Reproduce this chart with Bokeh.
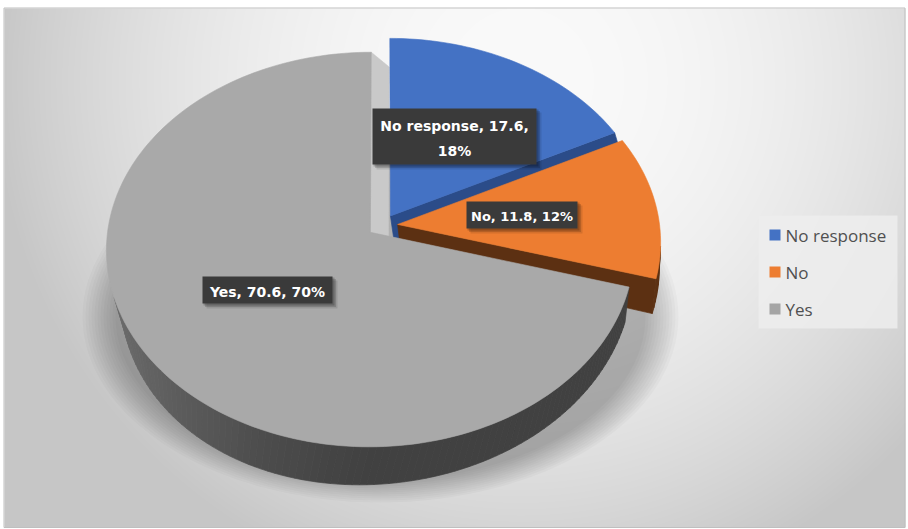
import numpy as np
from bokeh.plotting import figure
from bokeh.models import Range1d
from bokeh.core.properties import value
from bokeh.embed import file_html
from bokeh.resources import INLINE

# ---------------- data ----------------
categories = ["No response", "No", "Yes"]
values = [17.6, 11.8, 70.6]
percent_labels = ["18%", "12%", "70%"]
top_colors = ["#4472C4", "#ED7D31", "#A9A9A9"]
side_colors = ["#2E5191", "#5C3012", "#414141"]
cut_colors = ["#2B4C89", "#5C3012", "#C9C9C9"]
legend_colors = ["#4472C4", "#ED7D31", "#A5A5A5"]

W, H = 908, 529


def Y(yp):
    return H - np.asarray(yp, dtype=float)


# ---------------- projection of the 3D pie ----------------
CX, CY = 382.0, 225.0
RX, RY = 262.0, 194.6
PERSP = 0.087
EXPLODE = 0.058


def proj_top(X, Z):
    k = 1.0 / (1.0 - PERSP * Z)
    return CX + RX * X * k, CY + RY * Z * k


def depth_dy(Z):
    return 38.0 - 24.0 * ((1.0 - Z) / 2.0) ** 2


def proj_bot(X, Z):
    x, y = proj_top(X, Z)
    dx = 4.0 - 14.0 * Z - 12.0 * min(X, 0.0) - 4.0 * max(X, 0.0)
    return x + dx, y + depth_dy(Z)


def area(pts):
    s = 0.0
    n = len(pts)
    for i in range(n):
        x1, y1 = pts[i]
        x2, y2 = pts[(i + 1) % n]
        s += x1 * y2 - x2 * y1
    return s


def shade(hexcol, f):
    h = hexcol.lstrip("#")
    rgb = [int(h[j:j + 2], 16) for j in (0, 2, 4)]
    rgb = [int(round(c + (255 - c) * f)) for c in rgb]
    return "#%02x%02x%02x" % tuple(rgb)


p = figure(width=W, height=H, x_range=Range1d(0, W), y_range=Range1d(0, H),
           output_backend="svg", toolbar_location=None, min_border=0,
           x_axis_type=None, y_axis_type=None)
p.grid.visible = False
p.outline_line_color = None
p.background_fill_color = "white"
p.border_fill_color = "white"

# ---------------- background gradient ----------------
yy, xx = np.mgrid[0:H, 0:W]
pic_y = H - 1 - yy
r = np.sqrt((xx - 520.0) ** 2 + (pic_y - 80.0) ** 2)
v = np.clip(250 - 58 * (r / 560.0) ** 2, 198, 250).astype(np.uint8)
inside = (xx >= 4) & (xx <= 904) & (pic_y >= 8) & (pic_y <= 526)
v = np.where(inside, v, 255).astype(np.uint8)
img = np.empty((H, W), dtype=np.uint32)
view = img.view(dtype=np.uint8).reshape((H, W, 4))
view[:, :, 0] = v
view[:, :, 1] = v
view[:, :, 2] = v
view[:, :, 3] = 255
p.image_rgba(image=[img], x=0, y=0, dw=W, dh=H)

# frame
p.line(x=[3.5, 904.5, 904.5, 3.5, 3.5], y=Y([7.5, 7.5, 527, 527, 7.5]),
       line_color="#BFBFBF", line_width=1)

# ---------------- soft shadow under the pie ----------------
for i in range(12):
    p.ellipse(x=[380], y=Y([316]), width=[596 - i * 6], height=[372 - i * 4],
              fill_color="black", fill_alpha=0.022, line_color=None)

# ---------------- slices ----------------
total = float(sum(values))
cum = np.cumsum([0.0] + values)

slices = []
for i in range(len(values)):
    a0 = cum[i] / total * 2 * np.pi
    a1 = cum[i + 1] / total * 2 * np.pi
    mid = (a0 + a1) / 2
    bx, bz = EXPLODE * np.sin(mid), -EXPLODE * np.cos(mid)
    n = max(6, int(np.degrees(a1 - a0) / 1.5))
    th = np.linspace(a0, a1, n)
    X = np.sin(th) + bx
    Z = -np.cos(th) + bz
    top = [proj_top(a, b) for a, b in zip(X, Z)]
    bot = [proj_bot(a, b) for a, b in zip(X, Z)]
    ct = proj_top(bx, bz)
    cb = proj_bot(bx, bz)
    slices.append(dict(top=top, bot=bot, ct=ct, cb=cb, X=X, Z=Z, bx=bx, bz=bz))

# cut face of the last slice at 12 o'clock (seen in perspective beside the exploded first slice)
last = len(values) - 1
s = slices[last]
shift = 18.0
face = [s["top"][-1], s["ct"],
        (s["ct"][0] + shift, s["ct"][1] + depth_dy(s["bz"])),
        (s["top"][-1][0] + shift, s["top"][-1][1] + depth_dy(s["Z"][-1]))]
p.patch(x=[q[0] for q in face], y=Y([q[1] for q in face]),
        fill_color=cut_colors[last], line_color=cut_colors[last], line_width=0.5)

for i in range(len(values)):
    s = slices[i]
    top, bot, ct, cb = s["top"], s["bot"], s["ct"], s["cb"]
    xs, ys, cols = [], [], []
    faces = [[ct, top[0], bot[0], cb]]
    if i != last:
        faces.append([top[-1], ct, cb, bot[-1]])
    for f in faces:
        if area(f) < 0:
            xs.append([q[0] for q in f])
            ys.append(list(Y([q[1] for q in f])))
            cols.append(cut_colors[i])
    for k in range(len(top) - 1):
        quad = [top[k], top[k + 1], bot[k + 1], bot[k]]
        if area(quad) < 0:
            xm = (s["X"][k] + s["X"][k + 1]) / 2
            f = 0.22 * max(0.0, -xm) ** 1.4
            c = shade(side_colors[i], f)
            xs.append([q[0] for q in quad])
            ys.append(list(Y([q[1] for q in quad])))
            cols.append(c)
    if xs:
        p.patches(xs=xs, ys=ys, fill_color=cols, line_color=cols, line_width=0.7)
    poly = [ct] + top
    p.patch(x=[q[0] for q in poly], y=Y([q[1] for q in poly]),
            fill_color=top_colors[i], line_color=top_colors[i], line_width=0.6)

# ---------------- data labels ----------------
label_boxes = [(372, 108, 536, 164), (466, 201, 577, 228), (202, 276, 332, 303)]
label_lines = [
    [f"{categories[0]}, {values[0]},", percent_labels[0]],
    [f"{categories[1]}, {values[1]}, {percent_labels[1]}"],
    [f"{categories[2]}, {values[2]}, {percent_labels[2]}"],
]
label_text_y = [[125.5, 150.5], [216.0], [291.0]]
label_font_px = ["14px", "13px", "14px"]

for (x0, y0, x1, y1), lines, tys, fs in zip(label_boxes, label_lines, label_text_y, label_font_px):
    for off, al in ((5, 0.10), (3.5, 0.15), (2, 0.2)):
        p.quad(left=[x0 + off - 1], right=[x1 + off], top=Y([y0 + off - 1]), bottom=Y([y1 + off]),
               fill_color="black", fill_alpha=al, line_color=None)
    p.quad(left=[x0], right=[x1], top=Y([y0]), bottom=Y([y1]),
           fill_color="#3A3A3A", line_color=None)
    cxm = (x0 + x1) / 2
    p.text(x=[cxm] * len(lines), y=list(Y(tys)), text=lines,
           text_font=value("DejaVu Sans"), text_font_style="bold", text_font_size=fs,
           text_color="white", text_align="center", text_baseline="middle")

# ---------------- legend ----------------
p.quad(left=[758], right=[897], top=Y([215]), bottom=Y([328]),
       fill_color="#EDEDED", fill_alpha=0.85, line_color=None)
leg_y = [234.5, 271.5, 308.5]
p.rect(x=[774.5] * 3, y=list(Y(leg_y)), width=11, height=11,
       fill_color=legend_colors, line_color=None)
p.text(x=[785] * 3, y=list(Y(leg_y)), text=categories,
       text_font=value("Open Sans"), text_font_size="17px", text_color="#505050",
       text_align="left", text_baseline="middle")

open("out.html", "w").write(file_html(p, INLINE))
